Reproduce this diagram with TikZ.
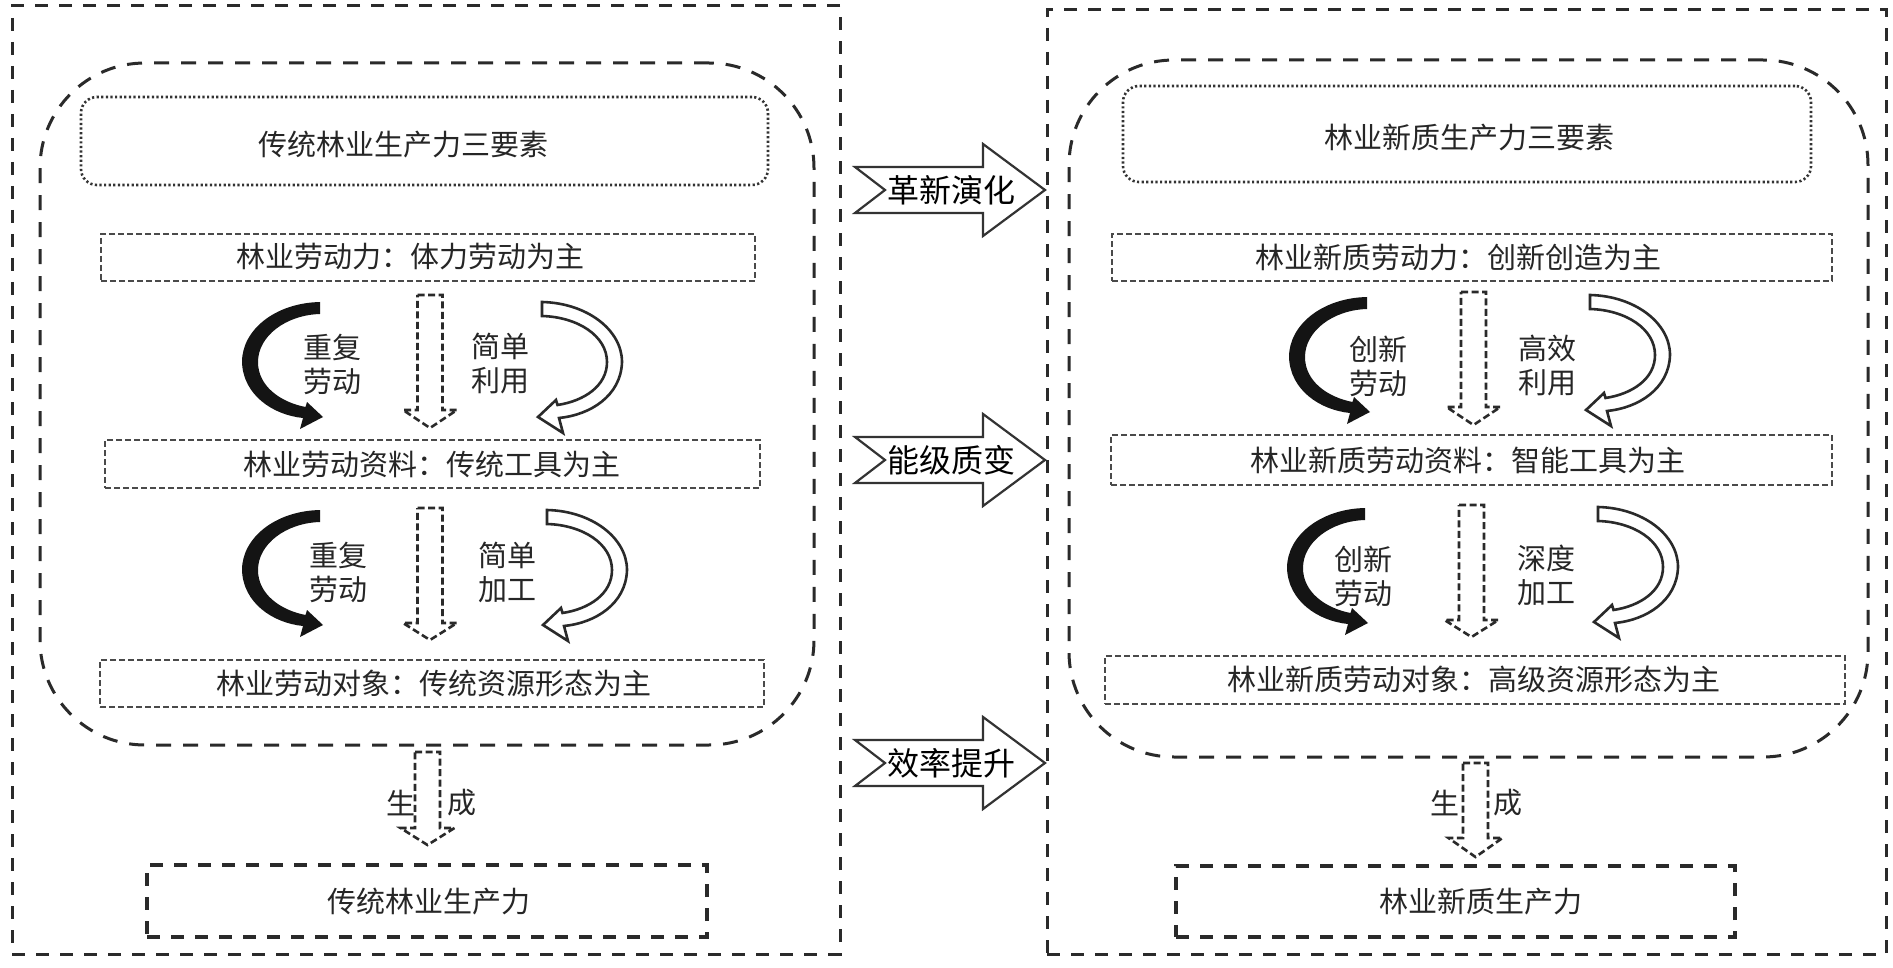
\documentclass[tikz,border=0pt]{standalone}
\usepackage{fontspec}
\setmainfont{Noto Sans CJK SC}
\definecolor{ln}{HTML}{2A2A2A}
\definecolor{ln2}{HTML}{333333}
\definecolor{ln3}{HTML}{4A4A4A}
\definecolor{tx}{HTML}{262626}
\newcommand\darrow[4]{\draw[dasharrow] (#1-12.5,#2) -- (#1+12.5,#2) -- (#1+12.5,#3) -- (#1+27,#3) -- (#1,#4) -- (#1-27,#3) -- (#1-12.5,#3) -- cycle;}
\newcommand\midarr[1]{\draw[midarrow] (855,#1-23) -- (983,#1-23) -- (983,#1-46) -- (1045,#1) -- (983,#1+46) -- (983,#1+23) -- (855,#1+23) -- (885,#1) -- cycle;}
\begin{document}
\begin{tikzpicture}[x=1pt,y=-1pt,
  txt/.style={text=tx, font=\fontsize{29}{34}\selectfont, inner sep=0pt, align=center},
  big/.style={text=black, font=\fontsize{32}{36}\selectfont, inner sep=0pt},
  box/.style={rectangle, inner sep=0pt},
  outerbox/.style={box, draw=ln, line width=3pt, dash pattern=on 13pt off 11pt},
  region/.style={box, draw=ln, line width=3pt, dash pattern=on 15pt off 12pt, rounded corners=105pt},
  titlebox/.style={box, draw=ln2, line width=2.6pt, dash pattern=on 2.2pt off 2.4pt, rounded corners=16pt},
  elembox/.style={box, draw=ln3, line width=1.8pt, dash pattern=on 6pt off 3pt},
  resultbox/.style={box, draw=ln, line width=3.2pt, dash pattern=on 13pt off 11pt},
  dasharrow/.style={draw=ln, line width=2.6pt, dash pattern=on 7pt off 3.5pt, line join=miter},
  midarrow/.style={draw=ln2, line width=2.2pt, fill=white, line join=miter},
  blackcrv/.pic={\fill[black!92] (0,0) .. controls (-45,1) and (-78,28) .. (-78,60) .. controls (-77,93) and (-47,113) .. (-17,116) -- (-20,127) -- (3,115) -- (-13,100) -- (-14.5,105) .. controls (-40,100) and (-62,84) .. (-62,60) .. controls (-62,34) and (-34,13) .. (0,12) -- cycle;},
  whitecrv/.pic={\draw[fill=white, draw=ln, line width=2.6pt, line join=miter] (0,0) .. controls (45,1) and (80,28) .. (80,60) .. controls (79,94) and (48,113) .. (17,116) -- (21,131) -- (-4,115) -- (14,98) -- (15.5,103) .. controls (42,99) and (65,84) .. (65,60) .. controls (65,34) and (36,15) .. (0,14) -- cycle;}
]
\useasboundingbox (0,0) rectangle (1893,968);
\fill[white] (0,0) rectangle (1893,968);

% outer boxes
\node[outerbox, minimum width=828pt, minimum height=948pt] (lout) at (426,480) {};
\node[outerbox, minimum width=839pt, minimum height=944pt] (rout) at (1466.5,482) {};

% rounded regions
\node[region, minimum width=774pt, minimum height=682pt] (lreg) at (427,404) {};
\node[region, minimum width=799pt, minimum height=697pt] (rreg) at (1468.5,408.5) {};

% title boxes
\node[titlebox, minimum width=687pt, minimum height=88pt] (ltb) at (424.5,141) {};
\node[titlebox, minimum width=688pt, minimum height=96pt] (rtb) at (1467,134) {};
\node[txt] (ltt) at (403,145) {传统林业生产力三要素};
\node[txt] (rtt) at (1469,138) {林业新质生产力三要素};

% element boxes left
\node[elembox, minimum width=654pt, minimum height=47pt] (l1) at (428,257.5) {};
\node[elembox, minimum width=655pt, minimum height=48pt] (l2) at (432.5,464) {};
\node[elembox, minimum width=664pt, minimum height=47pt] (l3) at (432,683.5) {};
\node[txt] (l1t) at (410,257) {林业劳动力：体力劳动为主};
\node[txt] (l2t) at (432,464) {林业劳动资料：传统工具为主};
\node[txt] (l3t) at (434,684) {林业劳动对象：传统资源形态为主};

% element boxes right
\node[elembox, minimum width=720pt, minimum height=47pt] (r1) at (1472,257.5) {};
\node[elembox, minimum width=721pt, minimum height=50pt] (r2) at (1471.5,460) {};
\node[elembox, minimum width=740pt, minimum height=48pt] (r3) at (1475,680) {};
\node[txt] (r1t) at (1458,257) {林业新质劳动力：创新创造为主};
\node[txt] (r2t) at (1468,460) {林业新质劳动资料：智能工具为主};
\node[txt] (r3t) at (1474,680) {林业新质劳动对象：高级资源形态为主};

% result boxes
\node[resultbox, minimum width=560pt, minimum height=72pt] (lres) at (427,901) {};
\node[resultbox, minimum width=559pt, minimum height=71pt] (rres) at (1455.5,901.5) {};
\node[txt] (lrest) at (429,902) {传统林业生产力};
\node[txt] (rrest) at (1481,902) {林业新质生产力};

% curved arrows
\pic at (320,302) {blackcrv};
\pic at (542,302) {whitecrv};
\pic at (320,510) {blackcrv};
\pic at (547,510) {whitecrv};
\pic at (1367,297) {blackcrv};
\pic at (1590,295) {whitecrv};
\pic at (1365,508) {blackcrv};
\pic at (1598,507) {whitecrv};

% dashed block arrows
\darrow{430}{295}{410}{428}
\darrow{430}{508}{623}{640}
\darrow{1473.5}{292}{407}{425}
\darrow{1471.5}{505}{620}{637}
\darrow{427.5}{752}{828}{845}
\darrow{1475.5}{763}{838}{857}

% labels of curved arrows
\node[txt] (la1) at (332,364) {重复\\劳动};
\node[txt] (lb1) at (500,364) {简单\\利用};
\node[txt] (la2) at (338,572) {重复\\劳动};
\node[txt] (lb2) at (507,572) {简单\\加工};
\node[txt] (ra1) at (1378,366) {创新\\劳动};
\node[txt] (rb1) at (1547,366) {高效\\利用};
\node[txt] (ra2) at (1363,576) {创新\\劳动};
\node[txt] (rb2) at (1546,575) {深度\\加工};

% generation labels
\node[txt] (lg1) at (401,803) {生};
\node[txt] (lg2) at (462,803) {成};
\node[txt] (rg1) at (1445,803) {生};
\node[txt] (rg2) at (1508,803) {成};

% middle arrows
\midarr{190}
\midarr{460}
\midarr{763}
\node[big] (m1) at (951,190) {革新演化};
\node[big] (m2) at (951,460) {能级质变};
\node[big] (m3) at (951,763) {效率提升};
\end{tikzpicture}
\end{document}
